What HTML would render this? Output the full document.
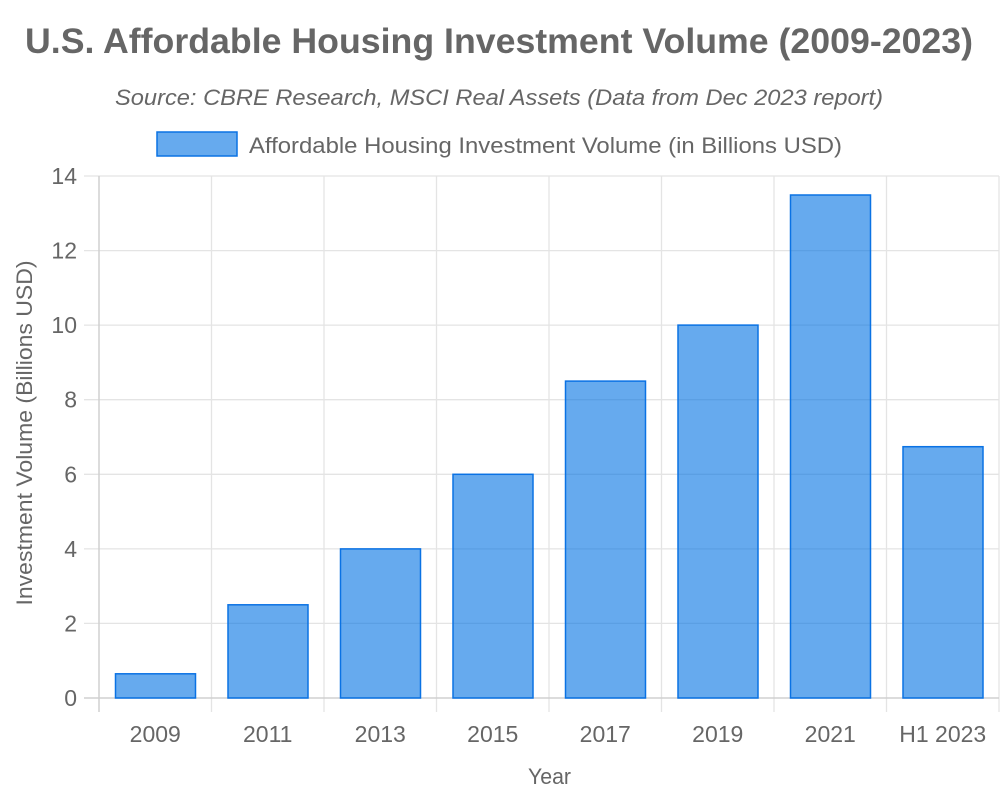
<!DOCTYPE html>
<html><head><meta charset="utf-8"><style>
html,body{margin:0;padding:0;background:#fff;}
svg{display:block;}
text{font-family:"Liberation Sans",Arial,Helvetica,sans-serif;fill:#666;}
</style></head><body>
<svg width="1000" height="800" viewBox="0 0 1000 800" xmlns="http://www.w3.org/2000/svg">
<rect width="1000" height="800" fill="#fff"/>
<text x="499" y="53" text-anchor="middle" font-size="35" font-weight="bold" textLength="948" lengthAdjust="spacingAndGlyphs">U.S. Affordable Housing Investment Volume (2009-2023)</text>
<text x="499" y="105" text-anchor="middle" font-size="22" font-style="italic" textLength="768" lengthAdjust="spacingAndGlyphs">Source: CBRE Research, MSCI Real Assets (Data from Dec 2023 report)</text>
<rect x="157" y="132" width="80" height="24" fill="rgba(0,113,227,0.6)" stroke="#0a72e4" stroke-width="1.5"/>
<text x="249" y="153" font-size="22" textLength="593" lengthAdjust="spacingAndGlyphs">Affordable Housing Investment Volume (in Billions USD)</text>
<!-- horizontal grid -->
<g stroke="#e4e4e4" stroke-width="1.3">
<line x1="84" y1="176" x2="999" y2="176"/>
<line x1="84" y1="250.6" x2="999" y2="250.6"/>
<line x1="84" y1="325.1" x2="999" y2="325.1"/>
<line x1="84" y1="399.7" x2="999" y2="399.7"/>
<line x1="84" y1="474.3" x2="999" y2="474.3"/>
<line x1="84" y1="548.9" x2="999" y2="548.9"/>
<line x1="84" y1="623.4" x2="999" y2="623.4"/>
</g>
<!-- vertical grid -->
<g stroke="#e4e4e4" stroke-width="1.3">
<line x1="211.5" y1="176" x2="211.5" y2="712"/>
<line x1="324" y1="176" x2="324" y2="712"/>
<line x1="436.5" y1="176" x2="436.5" y2="712"/>
<line x1="549" y1="176" x2="549" y2="712"/>
<line x1="661.5" y1="176" x2="661.5" y2="712"/>
<line x1="774" y1="176" x2="774" y2="712"/>
<line x1="886.5" y1="176" x2="886.5" y2="712"/>
<line x1="999" y1="176" x2="999" y2="712"/>
</g>
<!-- axes -->
<line x1="84" y1="698" x2="999" y2="698" stroke="#d0d0d0" stroke-width="1.5"/>
<line x1="99" y1="176" x2="99" y2="712" stroke="#d0d0d0" stroke-width="1.5"/>
<!-- bars -->
<g fill="rgba(0,113,227,0.6)" stroke="#0a72e4" stroke-width="1.5">
<rect x="115.5" y="673.8" width="80" height="24.2"/>
<rect x="228" y="604.8" width="80" height="93.2"/>
<rect x="340.5" y="548.9" width="80" height="149.1"/>
<rect x="453" y="474.3" width="80" height="223.7"/>
<rect x="565.5" y="381.1" width="80" height="316.9"/>
<rect x="678" y="325.1" width="80" height="372.9"/>
<rect x="790.5" y="195" width="80" height="503"/>
<rect x="903" y="446.7" width="80" height="251.3"/>
</g>
<!-- y ticks -->
<g font-size="23" text-anchor="end">
<text x="77" y="184">14</text>
<text x="77" y="258.6">12</text>
<text x="77" y="333.1">10</text>
<text x="77" y="407.7">8</text>
<text x="77" y="482.3">6</text>
<text x="77" y="556.9">4</text>
<text x="77" y="631.4">2</text>
<text x="77" y="706">0</text>
</g>
<!-- x ticks -->
<g font-size="23" text-anchor="middle">
<text x="155.25" y="742">2009</text>
<text x="267.75" y="742">2011</text>
<text x="380.25" y="742">2013</text>
<text x="492.75" y="742">2015</text>
<text x="605.25" y="742">2017</text>
<text x="717.75" y="742">2019</text>
<text x="830.25" y="742">2021</text>
<text x="942.75" y="742">H1 2023</text>
</g>
<text x="549.5" y="784" text-anchor="middle" font-size="22" textLength="43" lengthAdjust="spacingAndGlyphs">Year</text>
<text transform="translate(32,433) rotate(-90)" text-anchor="middle" font-size="22" textLength="345" lengthAdjust="spacingAndGlyphs">Investment Volume (Billions USD)</text>
</svg>
</body></html>
